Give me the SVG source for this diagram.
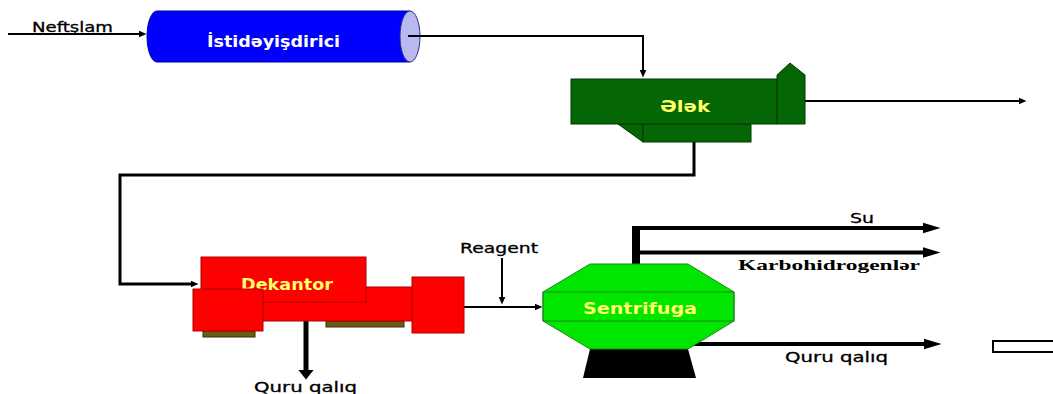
<svg xmlns="http://www.w3.org/2000/svg" width="1053" height="394" viewBox="0 0 1053 394">
  <style>
    .lbl { font-family: "DejaVu Sans", Verdana, sans-serif; font-size: 14px; fill: #000; stroke: #000; stroke-width: 0.3; }
    .serif { font-family: "Liberation Serif", "Times New Roman", serif; font-size: 15px; font-weight: bold; fill: #000; }
    .inner { font-family: "DejaVu Sans", Verdana, sans-serif; font-size: 15px; font-weight: bold; }
    .yel { fill: #ffff66; }
    .thin { fill: none; stroke: #000; stroke-width: 2; }
    .mid { fill: none; stroke: #000; stroke-width: 3; }
    .thick { fill: none; stroke: #000; stroke-width: 4; }
  </style>
  <defs>
    <marker id="ahSmall" markerUnits="userSpaceOnUse" markerWidth="9" markerHeight="8" refX="0.5" refY="4" orient="auto">
      <path d="M0,0.5 L8,4 L0,7.5 z" fill="#000"/>
    </marker>
    <marker id="ahBig" markerUnits="userSpaceOnUse" markerWidth="19" markerHeight="12" refX="0.5" refY="6" orient="auto">
      <path d="M0,0.5 L18,6 L0,11.5 z" fill="#000"/>
    </marker>
    <marker id="ahDown" markerUnits="userSpaceOnUse" markerWidth="11" markerHeight="17" refX="0.5" refY="8.5" orient="auto">
      <path d="M0,0.5 L10,8.5 L0,16.5 z" fill="#000"/>
    </marker>
  </defs>

  <rect width="1053" height="394" fill="#fff"/>

  <!-- connectors -->
  <g id="connectors">
    <path class="thin" d="M8,34 H139" marker-end="url(#ahSmall)"/>
    <path class="thin" d="M408,36 H643 V70" marker-end="url(#ahSmall)"/>
    <path class="thin" d="M805,101 H1019" marker-end="url(#ahSmall)"/>
    <path class="mid" d="M694,142 V175 H120 V284 H191" marker-end="url(#ahSmall)"/>
    <path class="thin" d="M464,307 H535" marker-end="url(#ahSmall)"/>
    <path class="thin" d="M502,258 V297" marker-end="url(#ahSmall)"/>
    <path fill="none" stroke="#000" stroke-width="5" d="M306,321 V370" marker-end="url(#ahDown)"/>
    <path fill="none" stroke="#000" stroke-width="8" d="M636,264 V226"/>
    <path class="thick" d="M632,228 H923" marker-end="url(#ahBig)"/>
    <path class="thick" d="M640,252.5 H923" marker-end="url(#ahBig)"/>
    <path class="thick" d="M690,344 H924" marker-end="url(#ahBig)"/>
  </g>

  <!-- heater -->
  <g id="istideyisdirici">
    <path d="M157,11 H410 V62 H157 A10,25.5 0 0 1 157,11 Z" fill="#0000ff" stroke="#0000aa" stroke-width="1"/>
    <ellipse cx="410" cy="36.5" rx="10" ry="25.5" fill="#b8b8f2" stroke="#303080" stroke-width="1"/>
    <line x1="408" y1="36" x2="421" y2="36" stroke="#000" stroke-width="2"/>
    <text class="inner" x="207" y="47" textLength="133" lengthAdjust="spacingAndGlyphs" fill="#fff">İstidəyişdirici</text>
  </g>

  <!-- sieve -->
  <g id="elek" fill="#046604" stroke="#003a00" stroke-width="1">
    <polygon points="618,124 643,124 643,142"/>
    <rect x="643" y="124" width="108" height="18"/>
    <rect x="571" y="79" width="206" height="45"/>
    <polygon points="777,75 790,63 805,75 805,124 777,124"/>
    <text class="inner yel" x="660" y="112" textLength="50" lengthAdjust="spacingAndGlyphs" stroke="none" font-size="16">Ələk</text>
  </g>

  <!-- decanter -->
  <g id="dekantor" stroke="#b00000" stroke-width="1">
    <rect x="203" y="331" width="52" height="6" fill="#6b5c14" stroke="#3a3000"/>
    <rect x="326" y="321" width="78" height="6" fill="#6b5c14" stroke="#3a3000"/>
    <rect x="263" y="287" width="149" height="34" fill="#ff0000"/>
    <rect x="201" y="257" width="165" height="45" fill="#ff0000"/>
    <text class="inner yel" x="241" y="290" textLength="92" lengthAdjust="spacingAndGlyphs" stroke="none" font-size="16">Dekantor</text>
    <rect x="193" y="289" width="70" height="42" fill="#ff0000"/>
    <rect x="412" y="277" width="52" height="56" fill="#ff0000"/>
  </g>

  <!-- centrifuge -->
  <g id="sentrifuga">
    <polygon points="590,349 688,349 696,378 583,378" fill="#000"/>
    <polygon points="590,264 688,264 734,292 734,321 688,349 590,349 543,321 543,292" fill="#00e600" stroke="#1a8a1a" stroke-width="1"/>
    <rect x="543" y="292" width="191" height="29" fill="none" stroke="#1a8a1a" stroke-width="1"/>
    <text class="inner yel" x="583" y="314" textLength="114" lengthAdjust="spacingAndGlyphs" font-size="16">Sentrifuga</text>
  </g>

  <!-- outlet tray -->
  <g id="tray">
    <rect x="993" y="341" width="64" height="11" fill="#fff" stroke="#000" stroke-width="2"/>
  </g>

  <!-- stream labels -->
  <g id="labels">
    <text class="lbl" x="32" y="32" textLength="81" lengthAdjust="spacingAndGlyphs">Neftşlam</text>
    <text class="lbl" x="460" y="253" textLength="78" lengthAdjust="spacingAndGlyphs">Reagent</text>
    <text class="lbl" x="850" y="223" textLength="24" lengthAdjust="spacingAndGlyphs">Su</text>
    <text class="serif" x="738" y="270" textLength="182" lengthAdjust="spacingAndGlyphs">Karbohidrogenlər</text>
    <text class="lbl" x="785" y="362" textLength="103" lengthAdjust="spacingAndGlyphs">Quru qalıq</text>
    <text class="lbl" x="254" y="392" textLength="103" lengthAdjust="spacingAndGlyphs">Quru qalıq</text>
  </g>
</svg>
